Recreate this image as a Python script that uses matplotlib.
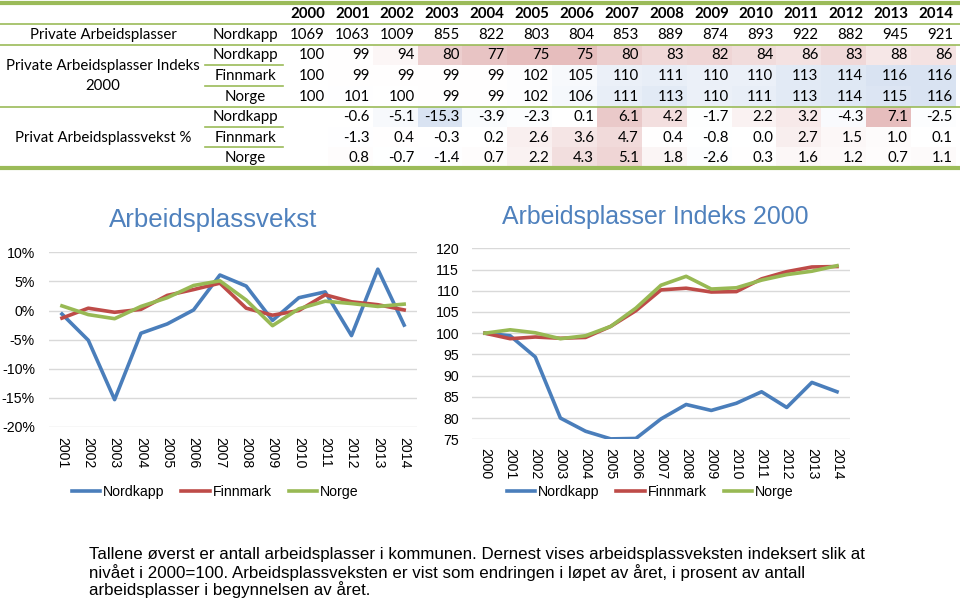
import numpy as np
import matplotlib.pyplot as plt
from matplotlib.patches import Rectangle

plt.rcParams["font.family"] = "Liberation Sans"

years = list(range(2000, 2015))
areas = ["Nordkapp", "Finnmark", "Norge"]

# table values
jobs_nordkapp = [1069, 1063, 1009, 855, 822, 803, 804, 853, 889, 874, 893, 922, 882, 945, 921]
idx_nordkapp_tab = [100, 99, 94, 80, 77, 75, 75, 80, 83, 82, 84, 86, 83, 88, 86]
idx_finnmark_tab = [100, 99, 99, 99, 99, 102, 105, 110, 111, 110, 110, 113, 114, 116, 116]
idx_norge_tab = [100, 101, 100, 99, 99, 102, 106, 111, 113, 110, 111, 113, 114, 115, 116]
growth_nordkapp = [-0.6, -5.1, -15.3, -3.9, -2.3, 0.1, 6.1, 4.2, -1.7, 2.2, 3.2, -4.3, 7.1, -2.5]
growth_finnmark = [-1.3, 0.4, -0.3, 0.2, 2.6, 3.6, 4.7, 0.4, -0.8, 0.0, 2.7, 1.5, 1.0, 0.1]
growth_norge = [0.8, -0.7, -1.4, 0.7, 2.2, 4.3, 5.1, 1.8, -2.6, 0.3, 1.6, 1.2, 0.7, 1.1]

# index chart values
idx_nordkapp = [100, 99.4, 94.4, 80.0, 76.9, 75.1, 75.2, 79.8, 83.2, 81.8, 83.5, 86.2, 82.5, 88.4, 86.2]
idx_finnmark = [100, 98.7, 99.1, 98.8, 99.0, 101.6, 105.3, 110.2, 110.6, 109.7, 109.8, 112.8, 114.5, 115.6, 115.7]
idx_norge = [100, 100.8, 100.1, 98.7, 99.4, 101.6, 105.9, 111.3, 113.4, 110.4, 110.7, 112.5, 113.8, 114.6, 115.9]

footer = ["Tallene øverst er antall arbeidsplasser i kommunen. Dernest vises arbeidsplassveksten indeksert slik at",
          "nivået i 2000=100. Arbeidsplassveksten er vist som endringen i løpet av året, i prosent av antall",
          "arbeidsplasser i begynnelsen av året."]

colors = ["#4A7EBB", "#BE4B48", "#98B954"]
green = "#9BBB59"
W, H = 960, 605

fig = plt.figure(figsize=(9.6, 6.05), dpi=100)


def px_axes(x0, y0, x1, y1):
    return fig.add_axes([x0 / W, 1 - y1 / H, (x1 - x0) / W, (y1 - y0) / H])


# ---- table ----
tab = fig.add_axes([0, 0, 1, 1])
tab.set_xlim(0, W)
tab.set_ylim(H, 0)
tab.axis("off")
tfont = dict(family="Lato", fontsize=10.8, color="black", va="center")

col_right = [325 + i * 44.85 for i in range(15)]
row_y = [14, 35, 55, 76, 97, 117, 138, 158]
row_top = [5, 24, 45, 65, 86, 107, 127, 147]
row_h = [19, 21, 20, 21, 21, 20, 21, 21]


def shade(v, lo, hi, mid, neg_red):
    t = (v - mid) / ((hi - mid) if v > mid else (mid - lo))
    t = min(abs(t), 1.0) ** 1.4
    red = np.array([0.90, 0.74, 0.74])
    blue = np.array([0.85, 0.89, 0.95])
    c = red if ((v < mid) == neg_red) else blue
    return tuple(1 - t * (1 - c))


for i, y in enumerate(years):
    tab.text(col_right[i], row_y[0], str(y), ha="right", fontweight="bold", **tfont)
    tab.text(col_right[i], row_y[1], str(jobs_nordkapp[i]), ha="right", **tfont)

for r, vals in enumerate([idx_nordkapp_tab, idx_finnmark_tab, idx_norge_tab]):
    for i, v in enumerate(vals):
        tab.add_patch(Rectangle((col_right[i] - 42, row_top[r + 2]), 45, row_h[r + 2],
                                color=shade(v, 75, 116, 100, True), lw=0))
        tab.text(col_right[i], row_y[r + 2], str(v), ha="right", **tfont)

for r, vals in enumerate([growth_nordkapp, growth_finnmark, growth_norge]):
    for i, v in enumerate(vals):
        tab.add_patch(Rectangle((col_right[i + 1] - 42, row_top[r + 5]), 45, row_h[r + 5],
                                color=shade(v, -15.3, 7.1, 0, False), lw=0))
        tab.text(col_right[i + 1], row_y[r + 5], f"{v:.1f}", ha="right", **tfont)

tab.text(103, row_y[1], "Private Arbeidsplasser", ha="center", **tfont)
tab.text(103, 66, "Private Arbeidsplasser Indeks", ha="center", **tfont)
tab.text(103, 86, "2000", ha="center", **tfont)
tab.text(103, row_y[6], "Privat Arbeidsplassvekst %", ha="center", **tfont)
tab.text(245, row_y[1], "Nordkapp", ha="center", **tfont)
for r, a in enumerate(areas):
    tab.text(245, row_y[r + 2], a, ha="center", **tfont)
    tab.text(245, row_y[r + 5], a, ha="center", **tfont)

tab.plot([0, W], [2.5, 2.5], color=green, lw=3)
tab.plot([0, W], [167.5, 167.5], color=green, lw=3)
for yy in [24, 45, 107]:
    tab.plot([0, W], [yy, yy], color=green, lw=1.2)
for yy in [65, 86, 127, 147]:
    tab.plot([205, 283], [yy, yy], color=green, lw=1.2)


# ---- charts ----
def style(ax, pad_y, pad_x):
    for s in ax.spines.values():
        s.set_visible(False)
    ax.grid(axis="y", color="#D9D9D9", lw=1)
    ax.set_axisbelow(True)
    ax.tick_params(length=0, labelsize=10.2)
    ax.tick_params(axis="y", pad=pad_y)
    ax.tick_params(axis="x", pad=pad_x)


leg_kw = dict(loc="center", bbox_transform=fig.transFigure, ncol=3, frameon=False,
              prop=dict(size=10.2), handlelength=2.0, handletextpad=0.2, columnspacing=1.2)

ax1 = px_axes(48.8, 252.3, 417.3, 427)
for vals, c, name in zip([growth_nordkapp, growth_finnmark, growth_norge], colors, areas):
    ax1.plot(years[1:], vals, color=c, lw=2.6, label=name)
ax1.set_xlim(2000.5, 2014.5)
ax1.set_ylim(-20, 10)
ax1.set_yticks([10, 5, 0, -5, -10, -15, -20])
ax1.set_yticklabels([f"{t}%" for t in [10, 5, 0, -5, -10, -15, -20]])
ax1.set_xticks(years[1:])
ax1.set_xticklabels([str(y) for y in years[1:]], rotation=-90)
style(ax1, 10, 7)
ax1.legend(bbox_to_anchor=(215 / W, 1 - 492 / H), **leg_kw)

ax2 = px_axes(472.4, 248.3, 849.6, 439.3)
for vals, c, name in zip([idx_nordkapp, idx_finnmark, idx_norge], colors, areas):
    ax2.plot(years, vals, color=c, lw=2.6, label=name)
ax2.set_xlim(1999.5, 2014.5)
ax2.set_ylim(75, 120)
ax2.set_yticks(range(75, 121, 5))
ax2.set_xticks(years)
ax2.set_xticklabels([str(y) for y in years], rotation=-90)
style(ax2, 9.5, 6.5)
ax2.legend(bbox_to_anchor=(650 / W, 1 - 492 / H), **leg_kw)

fig.text(213 / W, 1 - 220 / H, "Arbeidsplassvekst", ha="center", va="center",
         fontsize=18.6, color="#4F81BD")
fig.text(655 / W, 1 - 217 / H, "Arbeidsplasser Indeks 2000", ha="center", va="center",
         fontsize=17.9, color="#4F81BD")

for k, line in enumerate(footer):
    fig.text(89 / W, 1 - (555 + 17.5 * k) / H, line, ha="left", va="center",
             fontsize=12.2, color="black")

fig.savefig("out.png", dpi=100)
